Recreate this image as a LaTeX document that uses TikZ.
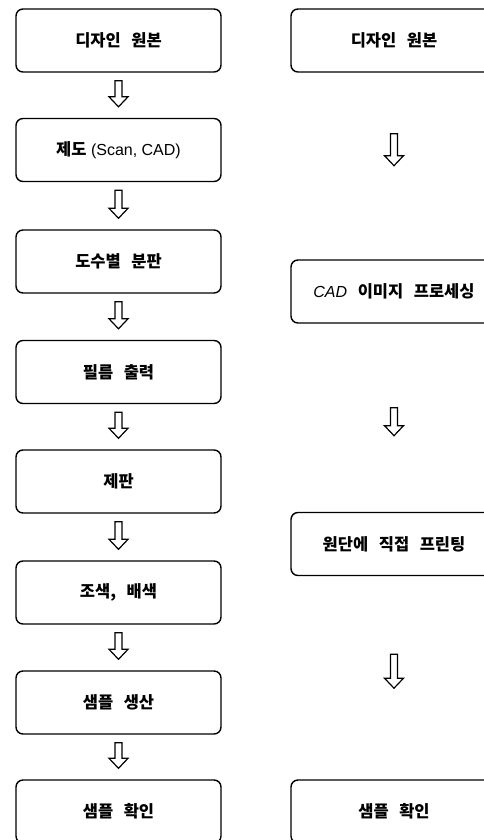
\documentclass[tikz,border=0pt]{standalone}
\usepackage{fontspec}
\setmainfont{Liberation Sans}
\newfontfamily\kr{Noto Sans CJK KR}[WordSpace=2.8]
\usetikzlibrary{calc}
\tikzset{
  box/.style={draw, line width=1.4pt, rounded corners=7pt, minimum width=205pt,
    minimum height=63pt, inner sep=0pt, font=\kr\bfseries\fontsize{16.5pt}{19pt}\selectfont},
  rbox/.style={box, minimum width=206pt},
  hollow/.style={line width=1.2pt, to path={let \p1=(\tikztostart), \p2=(\tikztotarget) in
    (\x1-3.5pt,\y1) -- (\x1+3.5pt,\y1) -- (\x1+3.5pt,\y2+10pt) -- (\x1+9.5pt,\y2+10pt)
    -- (\x1,\y2) -- (\x1-9.5pt,\y2+10pt) -- (\x1-3.5pt,\y2+10pt) -- cycle}}
}
\newcommand\lat[1]{{\fontspec{Liberation Sans}\mdseries\fontsize{16pt}{19pt}\selectfont #1}}
\newcommand\lati[1]{{\fontspec{Liberation Sans}\mdseries\itshape\fontsize{16pt}{19pt}\selectfont #1}}
\begin{document}
\begin{tikzpicture}[x=1pt,y=1pt]
\useasboundingbox (0,0) rectangle (484,-840);
\clip (0,0) rectangle (484,-840);
% left column
\node[box] (b1) at (118.5,-40.5) {디자인 원본};
\node[box] (b2) at (118.5,-150) {제도\lat{ (Scan, CAD)}};
\node[box] (b3) at (118.5,-261.5) {도수별 분판};
\node[box] (b4) at (118.5,-372) {필름 출력};
\node[box] (b5) at (118.5,-481.5) {제판};
\node[box] (b6) at (118.5,-592.5) {조색, 배색};
\node[box] (b7) at (118.5,-702.5) {샘플 생산};
\node[box] (b8) at (118.5,-811.5) {샘플 확인};
% right column
\node[rbox] (r1) at (394,-40.5) {디자인 원본};
\node[rbox] (r2) at (394,-291.5) {\lati{CAD} 이미지 프로세싱};
\node[rbox] (r3) at (394,-544) {원단에 직접 프린팅};
\node[rbox] (r4) at (394,-811.5) {샘플 확인};
% left arrows
\foreach \a/\b in {b1/b2,b2/b3,b3/b4,b4/b5,b5/b6,b6/b7,b7/b8}
  \draw[hollow] ($(\a.south)+(0,-8)$) to ($(\b.north)+(0,11)$);
% right arrows
\draw[hollow] ($(r1.south)+(0,-61)$) to ($(r1.south)+(0,-93)$);
\draw[hollow] ($(r2.south)+(0,-84)$) to ($(r2.south)+(0,-112)$);
\draw[hollow] ($(r3.south)+(0,-78)$) to ($(r3.south)+(0,-112)$);
\end{tikzpicture}
\end{document}
